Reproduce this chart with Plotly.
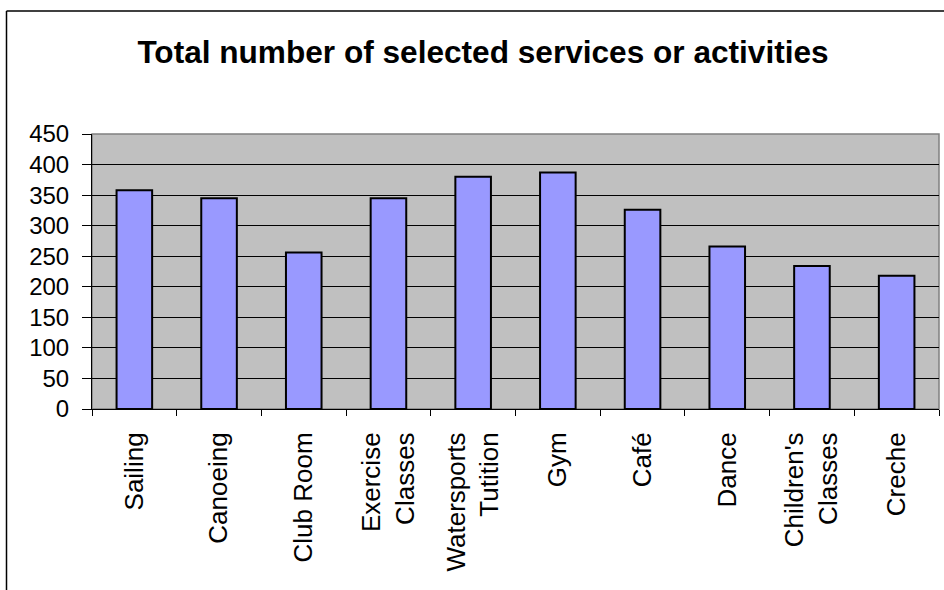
import plotly.graph_objects as go

categories = ["Sailing", "Canoeing", "Club Room", "Exercise<br>Classes", "Watersports<br>Tutition",
              "Gym", "Café", "Dance", "Children's<br>Classes", "Creche"]
values = [358, 345, 256, 345, 380, 387, 326, 266, 234, 218]
y_ticks = [0, 50, 100, 150, 200, 250, 300, 350, 400, 450]
title_text = "Total number of selected services or activities"

W, H = 944, 590
L, R, T, B = 92, 5, 134, 181
pw, ph = W - L - R, H - T - B

fig = go.Figure(go.Bar(
    x=categories, y=values,
    marker=dict(color="#9999FF", line=dict(color="#000000", width=2)),
    width=0.42,
))

font = "Arial, Liberation Sans, sans-serif"
fig.update_layout(
    width=W, height=H,
    margin=dict(l=L, r=R, t=T, b=B, pad=0),
    paper_bgcolor="white", plot_bgcolor="#C0C0C0",
    showlegend=False,
    title=dict(text="<b>" + title_text + "</b>", x=483 / W, xref="container", xanchor="center",
               y=1 - 52 / H, yref="container", yanchor="middle",
               font=dict(family=font, size=31.6, color="black")),
    font=dict(family=font, color="black"),
)
fig.update_xaxes(
    showline=True, linecolor="black", linewidth=1,
    ticks="outside", ticklen=6, tickcolor="black", tickwidth=1,
    tickson="boundaries", tickangle=-90,
    tickfont=dict(family=font, size=26, color="black"),
    ticklabelstandoff=12,
    showgrid=False,
)
fig.update_yaxes(
    range=[0, 450], tickvals=y_ticks,
    showline=True, linecolor="black", linewidth=1,
    ticks="outside", ticklen=9, tickcolor="black", tickwidth=1,
    tickfont=dict(family=font, size=24, color="black"),
    ticklabelstandoff=8,
    showgrid=True, gridcolor="#000000", gridwidth=1,
    zeroline=False,
)
# plot area border (gray top/right)
fig.add_shape(type="rect", xref="paper", yref="paper", x0=0, x1=1, y0=0, y1=1,
              line=dict(color="#808080", width=1.5), layer="below")
# outer chart frame
fx = (6.5 - L) / pw
fy = 1 + (T - 11) / ph
fig.add_shape(type="line", xref="paper", yref="paper", x0=fx, x1=fx, y0=-1.5, y1=fy,
              line=dict(color="black", width=1.5))
fig.add_shape(type="line", xref="paper", yref="paper", x0=fx, x1=1.5, y0=fy, y1=fy,
              line=dict(color="black", width=1.5))

fig.write_html("out.html")
